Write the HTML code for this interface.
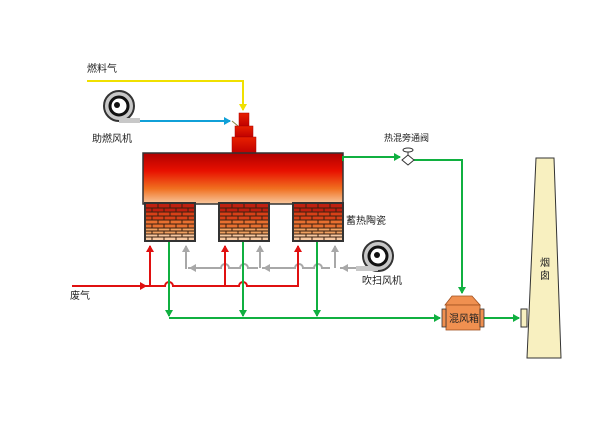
<!DOCTYPE html>
<html><head><meta charset="utf-8"><style>
html,body{margin:0;padding:0;background:#fff;width:616px;height:422px;overflow:hidden}
text{font-family:"Liberation Sans","Noto Sans CJK SC",sans-serif;font-size:10px;fill:#222}
</style></head><body>
<svg width="616" height="422" viewBox="0 0 616 422" xmlns="http://www.w3.org/2000/svg">
<defs>
<linearGradient id="ch" x1="0" y1="0" x2="0" y2="1">
<stop offset="0" stop-color="#b00000"/><stop offset="0.35" stop-color="#e81000"/><stop offset="0.7" stop-color="#f07020"/><stop offset="1" stop-color="#f8c8a0"/>
</linearGradient>
<linearGradient id="bu" x1="0" y1="0" x2="0" y2="1">
<stop offset="0" stop-color="#e82000"/><stop offset="1" stop-color="#c00000"/>
</linearGradient>
<marker id="ay" markerWidth="8" markerHeight="8" refX="6" refY="4" orient="auto" markerUnits="userSpaceOnUse"><path d="M0,0 L7,4 L0,8z" fill="#f0e000"/></marker>
<marker id="ab" markerWidth="8" markerHeight="8" refX="6" refY="4" orient="auto" markerUnits="userSpaceOnUse"><path d="M0,0 L7,4 L0,8z" fill="#10a0d8"/></marker>
<marker id="ar" markerWidth="8" markerHeight="8" refX="6" refY="4" orient="auto" markerUnits="userSpaceOnUse"><path d="M0,0 L7,4 L0,8z" fill="#e01010"/></marker>
<marker id="ag" markerWidth="8" markerHeight="8" refX="6" refY="4" orient="auto" markerUnits="userSpaceOnUse"><path d="M0,0 L7,4 L0,8z" fill="#10b040"/></marker>
<marker id="aa" markerWidth="8" markerHeight="8" refX="6" refY="4" orient="auto" markerUnits="userSpaceOnUse"><path d="M0,0 L7,4 L0,8z" fill="#a8a8a8"/></marker>
<pattern id="br" width="13" height="8" patternUnits="userSpaceOnUse">
<rect width="13" height="8" fill="#3a2a20"/>
<rect x="1" y="1" width="11" height="6" fill="currentColor"/>
</pattern>
</defs>

<!-- yellow fuel line -->
<text x="87" y="72">燃料气</text>
<polyline points="87,81 243,81 243,110" fill="none" stroke="#f0e000" stroke-width="2" marker-end="url(#ay)"/>
<!-- fan 1 -->
<circle cx="119" cy="106" r="15" fill="#c8c8c8" stroke="#333" stroke-width="2"/>
<rect x="119" y="118" width="21" height="5" fill="#c8c8c8"/>
<circle cx="119" cy="106" r="9" fill="#fff" stroke="#111" stroke-width="3"/>
<circle cx="117" cy="105" r="3" fill="#111"/>
<polyline points="140,121 230,121" fill="none" stroke="#10a0d8" stroke-width="2" marker-end="url(#ab)"/>
<line x1="232" y1="121" x2="238" y2="126" stroke="#884" stroke-width="1"/>
<text x="92" y="142">助燃风机</text>

<!-- burner -->
<rect x="239" y="113" width="10" height="13" fill="url(#bu)" stroke="#a00" stroke-width="0.5"/>
<rect x="235" y="126" width="18" height="11" fill="url(#bu)" stroke="#a00" stroke-width="0.5"/>
<rect x="232" y="137" width="24" height="16" fill="url(#bu)" stroke="#a00" stroke-width="0.5"/>

<!-- chamber -->
<rect x="143" y="153" width="200" height="51" fill="url(#ch)" stroke="#333" stroke-width="1.5"/>

<!-- bricks -->
<g>
<g transform="translate(144,202)"><rect width="52" height="40" fill="#333"/>
<rect x="2" y="2" width="48" height="8" fill="#c02010"/><rect x="2" y="10" width="48" height="8" fill="#d84018"/><rect x="2" y="18" width="48" height="8" fill="#e87030"/><rect x="2" y="26" width="48" height="6" fill="#f0a060"/><rect x="2" y="32" width="48" height="6" fill="#f8c8a0"/>
<path d="M2,6H50M2,10H50M2,14H50M2,18H50M2,22H50M2,26H50M2,29H50M2,32H50M2,35H50M14,2V6M26,2V6M38,2V6M8,6V10M20,6V10M32,6V10M44,6V10M14,10V14M26,10V14M38,10V14M8,14V18M20,14V18M32,14V18M44,14V18M14,18V22M26,18V22M38,18V22M8,22V26M20,22V26M32,22V26M44,22V26M14,26V29M26,26V29M38,26V29M8,29V32M20,29V32M32,29V32M44,29V32M14,32V35M26,32V35M38,32V35M8,35V38M20,35V38M32,35V38M44,35V38" stroke="#3a2010" stroke-width="1"/></g>
<g transform="translate(218,202)"><rect width="52" height="40" fill="#333"/>
<rect x="2" y="2" width="48" height="8" fill="#c02010"/><rect x="2" y="10" width="48" height="8" fill="#d84018"/><rect x="2" y="18" width="48" height="8" fill="#e87030"/><rect x="2" y="26" width="48" height="6" fill="#f0a060"/><rect x="2" y="32" width="48" height="6" fill="#f8c8a0"/>
<path d="M2,6H50M2,10H50M2,14H50M2,18H50M2,22H50M2,26H50M2,29H50M2,32H50M2,35H50M14,2V6M26,2V6M38,2V6M8,6V10M20,6V10M32,6V10M44,6V10M14,10V14M26,10V14M38,10V14M8,14V18M20,14V18M32,14V18M44,14V18M14,18V22M26,18V22M38,18V22M8,22V26M20,22V26M32,22V26M44,22V26M14,26V29M26,26V29M38,26V29M8,29V32M20,29V32M32,29V32M44,29V32M14,32V35M26,32V35M38,32V35M8,35V38M20,35V38M32,35V38M44,35V38" stroke="#3a2010" stroke-width="1"/></g>
<g transform="translate(292,202)"><rect width="52" height="40" fill="#333"/>
<rect x="2" y="2" width="48" height="8" fill="#c02010"/><rect x="2" y="10" width="48" height="8" fill="#d84018"/><rect x="2" y="18" width="48" height="8" fill="#e87030"/><rect x="2" y="26" width="48" height="6" fill="#f0a060"/><rect x="2" y="32" width="48" height="6" fill="#f8c8a0"/>
<path d="M2,6H50M2,10H50M2,14H50M2,18H50M2,22H50M2,26H50M2,29H50M2,32H50M2,35H50M14,2V6M26,2V6M38,2V6M8,6V10M20,6V10M32,6V10M44,6V10M14,10V14M26,10V14M38,10V14M8,14V18M20,14V18M32,14V18M44,14V18M14,18V22M26,18V22M38,18V22M8,22V26M20,22V26M32,22V26M44,22V26M14,26V29M26,26V29M38,26V29M8,29V32M20,29V32M32,29V32M44,29V32M14,32V35M26,32V35M38,32V35M8,35V38M20,35V38M32,35V38M44,35V38" stroke="#3a2010" stroke-width="1"/></g>
</g>
<text x="346" y="224">蓄热陶瓷</text>

<!-- gray purge -->
<g fill="none" stroke="#a8a8a8" stroke-width="2">
<path d="M365,268 H340 M330,268 H322 a4,4 0 0 0 -8,0 H303 a4,4 0 0 0 -8,0 H262 M258,268 H248 a4,4 0 0 0 -8,0 H229 a4,4 0 0 0 -8,0 H188"/>
<line x1="186" y1="269" x2="186" y2="246" marker-end="url(#aa)"/>
<line x1="260" y1="268" x2="260" y2="246" marker-end="url(#aa)"/>
<line x1="335" y1="268" x2="335" y2="246" marker-end="url(#aa)"/>
<line x1="365" y1="268" x2="342" y2="268" marker-end="url(#aa)"/>
<line x1="268" y1="268" x2="264" y2="268" marker-end="url(#aa)"/>
<line x1="196" y1="268" x2="190" y2="268" marker-end="url(#aa)"/>
</g>
<!-- fan 2 -->
<circle cx="378" cy="256" r="15" fill="#c8c8c8" stroke="#333" stroke-width="2"/>
<rect x="356" y="266" width="22" height="5" fill="#c8c8c8"/>
<circle cx="378" cy="256" r="9" fill="#fff" stroke="#111" stroke-width="3"/>
<circle cx="377" cy="255" r="3" fill="#111"/>
<text x="362" y="284">吹扫风机</text>

<!-- red waste gas -->
<g fill="none" stroke="#e01010" stroke-width="2">
<path d="M72,286 H150 M150,286 H165 a4,4 0 0 1 8,0 H239 a4,4 0 0 1 8,0 H298"/>
<line x1="120" y1="286" x2="146" y2="286" marker-end="url(#ar)"/>
<line x1="150" y1="287" x2="150" y2="246" marker-end="url(#ar)"/>
<line x1="225" y1="287" x2="225" y2="246" marker-end="url(#ar)"/>
<line x1="298" y1="287" x2="298" y2="246" marker-end="url(#ar)"/>
</g>
<text x="70" y="299">废气</text>

<!-- green -->
<g fill="none" stroke="#10b040" stroke-width="2">
<line x1="169" y1="242" x2="169" y2="316" marker-end="url(#ag)"/>
<line x1="243" y1="242" x2="243" y2="316" marker-end="url(#ag)"/>
<line x1="317" y1="242" x2="317" y2="316" marker-end="url(#ag)"/>
<line x1="169" y1="318" x2="440" y2="318" marker-end="url(#ag)"/>
<polyline points="343,161 343,157 400,157" marker-end="url(#ag)"/>
<polyline points="414,160 462,160 462,293" marker-end="url(#ag)"/>
<line x1="483" y1="318" x2="519" y2="318" marker-end="url(#ag)"/>
</g>
<!-- valve -->
<path d="M402,160 L408,155 L414,160 L408,165z" fill="#fff" stroke="#333" stroke-width="1"/>
<line x1="408" y1="155" x2="408" y2="150" stroke="#333"/>
<ellipse cx="408" cy="150" rx="5" ry="2" fill="#fff" stroke="#333"/>
<text x="384" y="141" style="font-size:9px">热混旁通阀</text>

<!-- mixing box -->
<path d="M452,296 H472 L480,305 H445z" fill="#f09050" stroke="#a05020" stroke-width="0.8"/>
<rect x="446" y="305" width="34" height="25" fill="#f09050" stroke="#a05020" stroke-width="0.8"/>
<rect x="442" y="309" width="4" height="18" fill="#f09050" stroke="#333" stroke-width="0.8"/>
<rect x="480" y="309" width="4" height="18" fill="#f09050" stroke="#333" stroke-width="0.8"/>
<text x="449" y="322">混风箱</text>

<!-- chimney -->
<rect x="521" y="309" width="6" height="18" fill="#f8f0c0" stroke="#333" stroke-width="1"/>
<polygon points="536,158 554,158 561,358 527,358" fill="#f8f0c0" stroke="#333" stroke-width="1"/>
<text x="540" y="266">烟</text>
<text x="540" y="279">囱</text>
</svg>
</body></html>
